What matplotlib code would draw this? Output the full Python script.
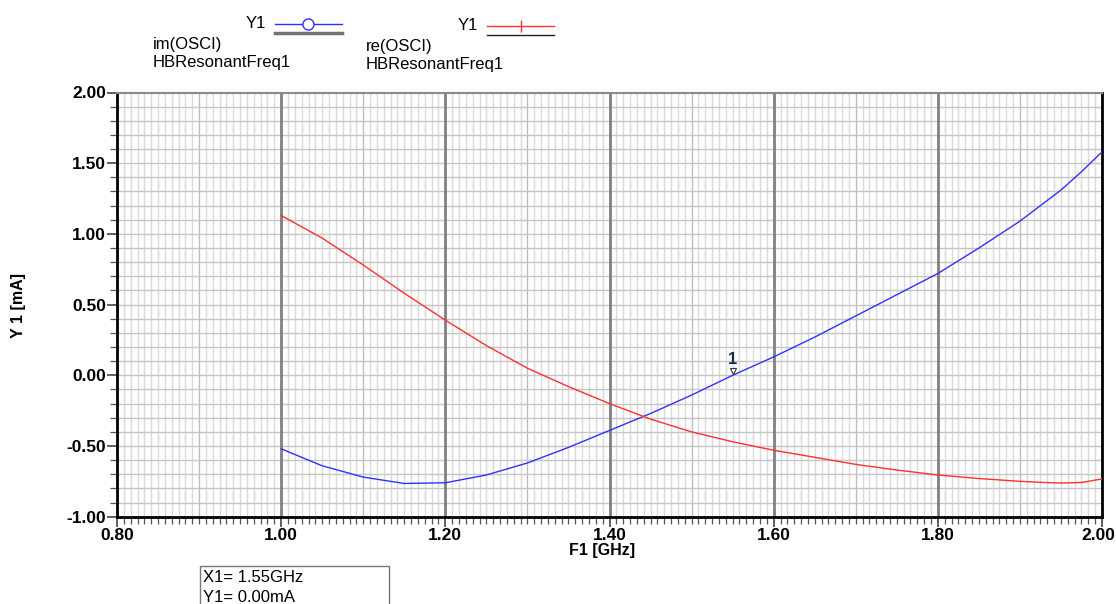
import numpy as np
import matplotlib
matplotlib.use("Agg")
import matplotlib.pyplot as plt
import matplotlib.transforms as mtransforms
from matplotlib.lines import Line2D
from matplotlib.patches import Rectangle

# Harmonic-balance sweep of the oscillator admittance
freq_ghz = [1.00, 1.05, 1.10, 1.15, 1.20, 1.25, 1.30, 1.35, 1.40, 1.45, 1.50,
            1.55, 1.60, 1.65, 1.70, 1.75, 1.80, 1.85, 1.90, 1.925, 1.95, 1.975, 2.00]
im_osci = [-0.52, -0.64, -0.72, -0.765, -0.76, -0.705, -0.62, -0.51, -0.39, -0.27, -0.14,
           0.00, 0.13, 0.27, 0.42, 0.57, 0.72, 0.90, 1.09, 1.20, 1.31, 1.44, 1.58]
re_osci = [1.13, 0.97, 0.78, 0.58, 0.39, 0.21, 0.05, -0.08, -0.20, -0.31, -0.40,
           -0.47, -0.53, -0.58, -0.63, -0.67, -0.705, -0.73, -0.75, -0.757, -0.762, -0.758, -0.733]

x_ticks = [0.80, 1.00, 1.20, 1.40, 1.60, 1.80, 2.00]
y_ticks = [-1.00, -0.50, 0.00, 0.50, 1.00, 1.50, 2.00]
marker_x = 1.55
marker_y = 0.00

plt.rcParams['font.family'] = ['Liberation Sans', 'DejaVu Sans']

W, H = 1116, 604
fig = plt.figure(figsize=(W / 100, H / 100), dpi=100)
ax = fig.add_axes([117 / W, 1 - 516.7 / H, (1102 - 117) / W, (516.7 - 92.5) / H])
ax.set_xlim(0.80, 2.00)
ax.set_ylim(-1.00, 2.00)

# grid: fine vertical lines, horizontal every 0.1, heavy vertical at each major step
minor_x = np.linspace(0.80, 2.00, 6 * 24 + 1)
for i, xv in enumerate(minor_x):
    if i % 24 == 0:
        continue
    col = '#bdbdbd' if i % 12 == 0 else '#dadada'
    ax.axvline(xv, color=col, lw=1.0, zorder=0)
for yv in np.linspace(-1.0, 2.0, 31)[1:-1]:
    ax.axhline(yv, color='#c6c6c6', lw=1.0, zorder=0)
for xv in x_ticks[1:-1]:
    ax.axvline(xv, color='#808080', lw=2.0, zorder=1)

ax.plot(freq_ghz, im_osci, color='#3030ff', lw=1.0, zorder=3)
ax.plot(freq_ghz, re_osci, color='#ff3030', lw=1.0, zorder=3)

# marker 1
ax.plot([marker_x], [marker_y + 0.03], marker='v', ms=4, mfc='white', mec='#333333', mew=0.8, zorder=4)
ax.text(marker_x, marker_y + 0.06, '1', ha='center', va='bottom', fontsize=12,
        fontweight='bold', color='#1a2a3a', zorder=5)

ax.set_xticks(x_ticks)
ax.set_xticklabels([f'{v:.2f}' for v in x_ticks])
ax.set_yticks(y_ticks)
ax.set_yticklabels([f'{v:.2f}' for v in y_ticks])
ax.set_xticks(np.linspace(0.80, 2.00, 6 * 24 + 1), minor=True)
ax.set_yticks(np.linspace(-1.0, 2.0, 31), minor=True)
ax.tick_params(axis='both', which='major', labelsize=12.5, length=7, width=1.2, color='#444444')
ax.tick_params(axis='both', which='minor', length=5, width=0.9, color='#555555')
ax.tick_params(axis='x', which='major', pad=1)
ax.tick_params(axis='y', which='major', pad=1)
for lab in ax.get_xticklabels() + ax.get_yticklabels():
    lab.set_fontweight('bold')

# keep the last frequency label inside the figure edge
last = ax.get_xticklabels()[-1]
last.set_transform(last.get_transform() +
                   mtransforms.ScaledTranslation(-4 / 100, 0, fig.dpi_scale_trans))

for side in ['left', 'right', 'bottom']:
    ax.spines[side].set_color('black')
    ax.spines[side].set_linewidth(2.0)
ax.spines['top'].set_color('#8a8a8a')
ax.spines['top'].set_linewidth(1.5)

fig.text(18 / W, 1 - 305 / H, 'Y 1 [mA]', rotation=90, ha='center', va='center',
         fontsize=11.5, fontweight='bold')
fig.text(602 / W, 1 - 551 / H, 'F1 [GHz]', ha='center', va='center',
         fontsize=11.5, fontweight='bold')

# legend entries
def fx(px):
    return px / W

def fy(py):
    return 1 - py / H

fig.text(fx(266), fy(24), 'Y1', ha='right', va='center', fontsize=12)
fig.add_artist(Line2D([fx(275), fx(342)], [fy(24), fy(24)], color='#3030ff', lw=1.0))
fig.add_artist(Line2D([fx(308)], [fy(24)], marker='o', ms=8, mfc='white', mec='#3030ff', mew=1.0))
fig.add_artist(Line2D([fx(275), fx(342)], [fy(33), fy(33)], color='#707070', lw=2.5))
fig.text(fx(153), fy(45), 'im(OSCI)', ha='left', va='center', fontsize=12)
fig.text(fx(153), fy(62), 'HBResonantFreq1', ha='left', va='center', fontsize=12)

fig.text(fx(478), fy(26), 'Y1', ha='right', va='center', fontsize=12)
fig.add_artist(Line2D([fx(487), fx(554)], [fy(26), fy(26)], color='#ff3030', lw=1.0))
fig.add_artist(Line2D([fx(521)], [fy(26)], marker='|', ms=9, mec='#ff3030', mew=1.0))
fig.add_artist(Line2D([fx(487), fx(554)], [fy(35), fy(35)], color='#222222', lw=1.0))
fig.text(fx(366), fy(46), 're(OSCI)', ha='left', va='center', fontsize=12)
fig.text(fx(366), fy(64), 'HBResonantFreq1', ha='left', va='center', fontsize=12)

# marker readout box
fig.add_artist(Rectangle((fx(200), fy(620)), fx(389) - fx(200), fy(566) - fy(620),
                         transform=fig.transFigure, fill=False, ec='#777777', lw=1.0))
fig.text(fx(203), fy(577), 'X1= 1.55GHz', ha='left', va='center', fontsize=12)
fig.text(fx(203), fy(598), 'Y1= 0.00mA', ha='left', va='center', fontsize=12)

fig.savefig('out.png', dpi=100, facecolor='white')
